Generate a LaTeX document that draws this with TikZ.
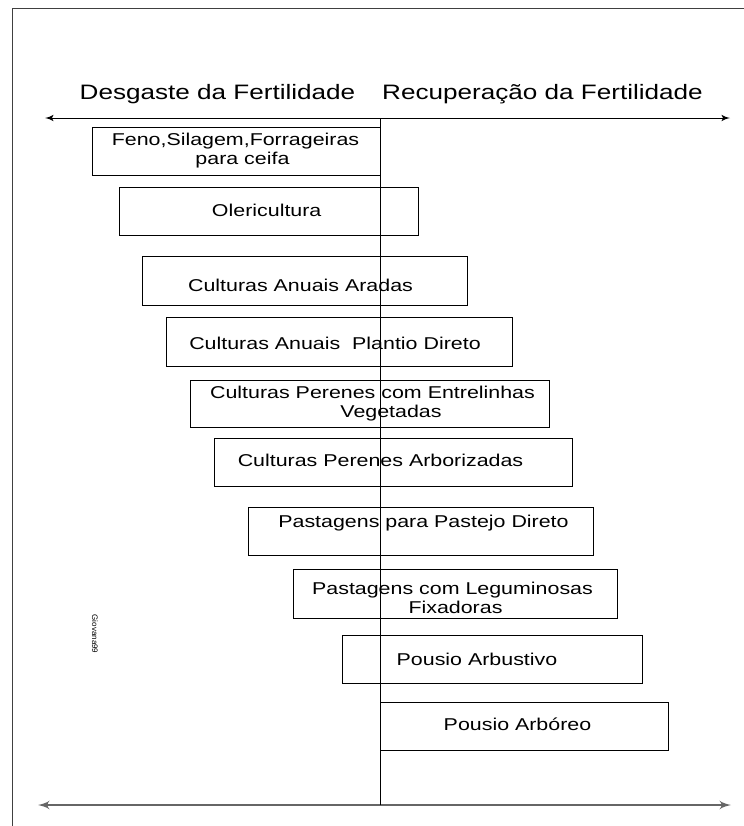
\documentclass[tikz,border=0pt]{standalone}
\usepackage{fontspec}
\setmainfont{Liberation Sans}
\usetikzlibrary{arrows,calc}
\tikzstyle{axis} = [draw, latex'-latex', line width=0.5pt]
\tikzstyle{block} = [draw, rectangle, inner sep=0pt, line width=0.5pt]
\tikzstyle{caption} = [inner sep=0pt, xscale=1.25, font=\fontsize{10.44}{12}\selectfont, text height=7.5pt, text depth=0pt]
\tikzstyle{boxtext} = [inner sep=0pt, xscale=1.25, font=\fontsize{8.56}{9.5}\selectfont, text height=6.1pt, text depth=0pt]
\tikzstyle{boxtexttwo} = [inner sep=0pt, xscale=1.25, font=\fontsize{8.56}{9.5}\selectfont, align=center]

\begin{document}
\begin{tikzpicture}[x=0.5pt, y=-0.5pt]
        \useasboundingbox (0,0) rectangle (744,826);
        \draw[line width=0.5pt, black!75] (12,826) -- (12,8) -- (744,8);
        \coordinate (topL) at (45,118);
        \coordinate (topM) at (380,118);
        \coordinate (topR) at (730,118);
        \coordinate (botL) at (38,805);
        \coordinate (botM) at (380,805);
        \coordinate (botR) at (731,805);
        \node[caption] (desgaste) at (217.5,92) {Desgaste da Fertilidade};
        \node[caption] (recup) at (542.5,92) {Recuperação da Fertilidade};
        \node[block, minimum width=144pt, minimum height=24pt] (feno) at (236,151) {};
        \node[block, minimum width=149.5pt, minimum height=24pt] (oleri) at (268.5,211) {};
        \node[block, minimum width=162.5pt, minimum height=24.5pt] (aradas) at (304.5,280.5) {};
        \node[block, minimum width=173pt, minimum height=24.5pt] (plantio) at (339,341.5) {};
        \node[block, minimum width=179.5pt, minimum height=23.5pt] (entrelinhas) at (369.5,403.5) {};
        \node[block, minimum width=179pt, minimum height=24pt] (arborizadas) at (393,462) {};
        \node[block, minimum width=172.5pt, minimum height=24pt] (pastejo) at (420.5,531) {};
        \node[block, minimum width=162pt, minimum height=24.5pt] (leguminosas) at (455,593.5) {};
        \node[block, minimum width=150pt, minimum height=24pt] (arbustivo) at (492,659) {};
        \node[block, minimum width=144pt, minimum height=24pt] (arboreo) at (524,726) {};
        \node[boxtexttwo] (feno-t) at (235.5,151) {Feno,Silagem,Forrageiras\\\hspace*{0.65em}para ceifa};
        \node[boxtext] (oleri-t) at (266.7,210.5) {Olericultura};
        \node[boxtext] (aradas-t) at (300.5,285) {Culturas Anuais Aradas};
        \node[boxtext] (plantio-t) at (335,343.3) {Culturas Anuais \ Plantio Direto};
        \node[boxtexttwo] (entrelinhas-t) at (372.5,403.5) {Culturas Perenes com Entrelinhas\\\hspace*{1.73em}Vegetadas};
        \node[boxtext] (arborizadas-t) at (380.5,460.5) {Culturas Perenes Arborizadas};
        \node[boxtext] (pastejo-t) at (423.5,521) {Pastagens para Pastejo Direto};
        \node[boxtexttwo] (leguminosas-t) at (452.5,597.5) {Pastagens com Leguminosas\\\hspace*{0.28em}Fixadoras};
        \node[boxtext] (arbustivo-t) at (477,659) {Pousio Arbustivo};
        \node[boxtext] (arboreo-t) at (517.5,724) {Pousio Arbóreo};
        \node[rotate=-90, inner sep=0pt, font=\fontsize{4}{5}\selectfont] (autor) at (95,634) {Giovana99};
        \path[axis] (topL) -- (topR);
        \path[axis, line width=1pt, black!60] (botL) -- (botR);
        \draw[line width=0.5pt] (topM) -- (botM);
    \end{tikzpicture}
\end{document}
